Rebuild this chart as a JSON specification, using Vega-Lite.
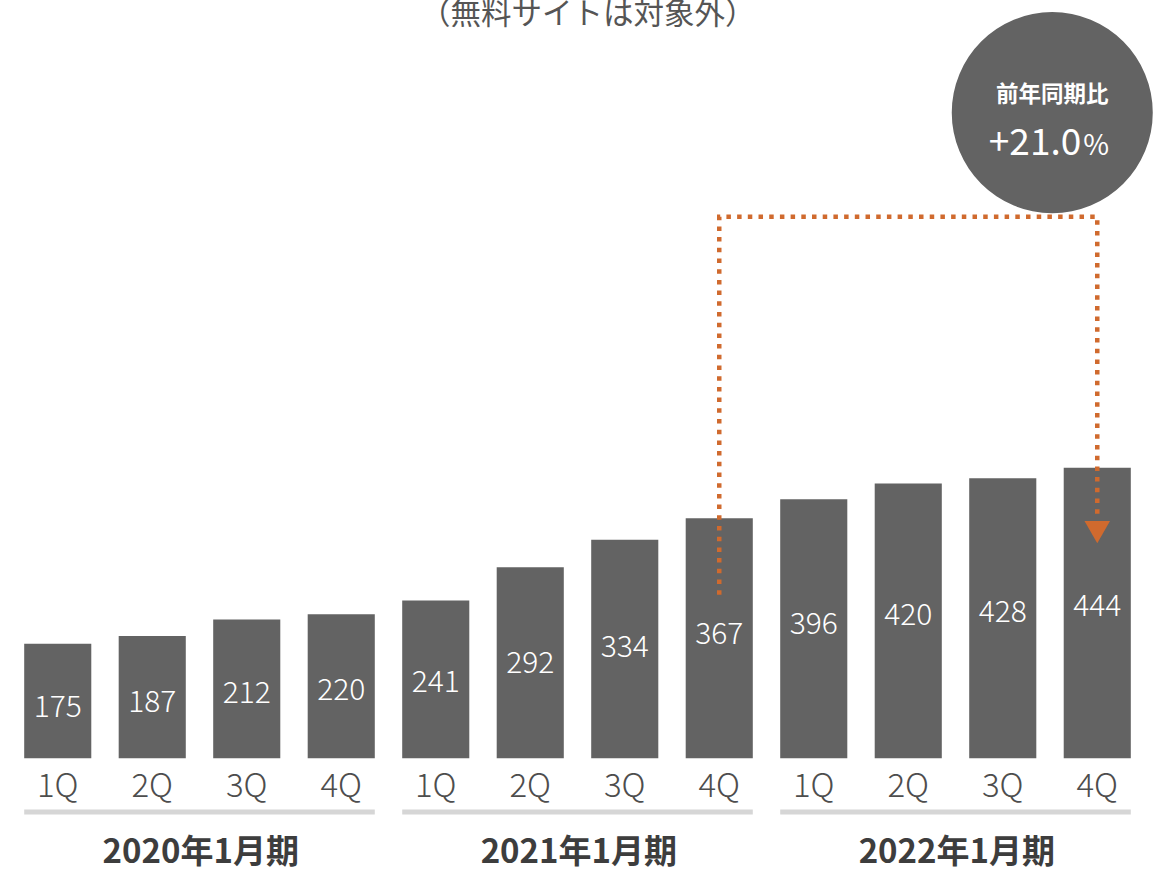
{
  "$schema": "https://vega.github.io/schema/vega-lite/v6.json",
  "width": 1155,
  "height": 872,
  "autosize": {"type": "fit", "contains": "padding"},
  "padding": 0,
  "background": "#ffffff",
  "config": {"view": {"stroke": null}, "font": "Noto Sans CJK JP"},
  "datasets": {
    "quarters": [
      {"key": "2020-1Q", "q": "1Q", "value": 175},
      {"key": "2020-2Q", "q": "2Q", "value": 187},
      {"key": "2020-3Q", "q": "3Q", "value": 212},
      {"key": "2020-4Q", "q": "4Q", "value": 220},
      {"key": "2021-1Q", "q": "1Q", "value": 241},
      {"key": "2021-2Q", "q": "2Q", "value": 292},
      {"key": "2021-3Q", "q": "3Q", "value": 334},
      {"key": "2021-4Q", "q": "4Q", "value": 367},
      {"key": "2022-1Q", "q": "1Q", "value": 396},
      {"key": "2022-2Q", "q": "2Q", "value": 420},
      {"key": "2022-3Q", "q": "3Q", "value": 428},
      {"key": "2022-4Q", "q": "4Q", "value": 444}
    ],
    "years": [
      {"year": "2020年1月期", "first": "2020-1Q", "mid": "2020-2Q", "last": "2020-4Q"},
      {"year": "2021年1月期", "first": "2021-1Q", "mid": "2021-2Q", "last": "2021-4Q"},
      {"year": "2022年1月期", "first": "2022-1Q", "mid": "2022-2Q", "last": "2022-4Q"}
    ],
    "path": [
      {"key": "2021-4Q", "y": 250, "o": 1},
      {"key": "2021-4Q", "y": 828, "o": 2},
      {"key": "2022-4Q", "y": 828, "o": 3},
      {"key": "2022-4Q", "y": 367, "o": 4}
    ]
  },
  "resolve": {"scale": {"y": "independent"}},
  "layer": [
    {
      "data": {"name": "quarters"},
      "mark": {"type": "bar", "color": "#636363"},
      "encoding": {
        "x": {"field": "key", "type": "ordinal", "axis": null, "scale": {"paddingInner": 0.29, "paddingOuter": 0.256, "domain": ["2020-1Q","2020-2Q","2020-3Q","2020-4Q","2021-1Q","2021-2Q","2021-3Q","2021-4Q","2022-1Q","2022-2Q","2022-3Q","2022-4Q"]}},
        "y": {"field": "value", "type": "quantitative", "axis": null, "scale": {"domain": [-174, 1147], "nice": false, "zero": false}},
        "y2": {"datum": 0}
      }
    },
    {
      "data": {"name": "quarters"},
      "mark": {"type": "text", "color": "#ffffff", "fontSize": 30, "fontWeight": 300, "baseline": "middle", "align": "center"},
      "encoding": {
        "x": {"field": "key", "type": "ordinal", "axis": null},
        "y": {"field": "value", "type": "quantitative", "axis": null, "scale": {"domain": [-263, 2038], "nice": false, "zero": false}},
        "text": {"field": "value", "type": "quantitative"}
      }
    },
    {
      "data": {"name": "quarters"},
      "mark": {"type": "text", "color": "#4d4d4d", "fontSize": 33, "fontWeight": 300, "baseline": "alphabetic", "align": "center"},
      "encoding": {
        "x": {"field": "key", "type": "ordinal", "axis": null},
        "y": {"datum": -59, "type": "quantitative", "axis": null, "scale": {"domain": [-174, 1147], "nice": false, "zero": false}},
        "text": {"field": "q", "type": "nominal"}
      }
    },
    {
      "data": {"name": "years"},
      "mark": {"type": "rule", "color": "#d6d6d6", "strokeWidth": 5},
      "encoding": {
        "x": {"field": "first", "type": "ordinal", "axis": null, "bandPosition": 0},
        "x2": {"field": "last", "bandPosition": 1},
        "y": {"datum": -82.3, "type": "quantitative", "axis": null, "scale": {"domain": [-174, 1147], "nice": false, "zero": false}}
      }
    },
    {
      "data": {"name": "years"},
      "mark": {"type": "text", "color": "#3d3d3d", "fontSize": 33, "fontWeight": "bold", "baseline": "alphabetic", "align": "center", "dx": 15},
      "encoding": {
        "x": {"field": "mid", "type": "ordinal", "axis": null, "bandPosition": 1},
        "y": {"datum": -160, "type": "quantitative", "axis": null, "scale": {"domain": [-174, 1147], "nice": false, "zero": false}},
        "text": {"field": "year", "type": "nominal"}
      }
    },
    {
      "data": {"name": "path"},
      "mark": {"type": "line", "color": "#d06a2e", "strokeWidth": 4.5, "strokeDash": [4.5, 6.2], "strokeCap": "butt"},
      "encoding": {
        "x": {"field": "key", "type": "ordinal", "axis": null},
        "y": {"field": "y", "type": "quantitative", "axis": null, "scale": {"domain": [-174, 1147], "nice": false, "zero": false}},
        "order": {"field": "o", "type": "quantitative"}
      }
    },
    {
      "data": {"values": [{"label": "arrow"}]},
      "mark": {"type": "point", "shape": "triangle-down", "size": 650, "filled": true, "color": "#d06a2e", "opacity": 1},
      "encoding": {
        "x": {"datum": "2022-4Q", "type": "ordinal", "axis": null},
        "y": {"datum": 345.6, "type": "quantitative", "axis": null, "scale": {"domain": [-174, 1147], "nice": false, "zero": false}}
      }
    },
    {
      "data": {"values": [{"label": "circle"}]},
      "mark": {"type": "point", "shape": "circle", "size": 40400, "filled": true, "color": "#636363", "opacity": 1, "xOffset": -45},
      "encoding": {
        "x": {"datum": "2022-4Q", "type": "ordinal", "axis": null},
        "y": {"datum": 987, "type": "quantitative", "axis": null, "scale": {"domain": [-174, 1147], "nice": false, "zero": false}}
      }
    },
    {
      "data": {"values": [{"t": "前年同期比"}]},
      "mark": {"type": "text", "color": "#ffffff", "fontSize": 22.5, "fontWeight": "bold", "baseline": "middle", "align": "center", "dx": -45},
      "encoding": {
        "x": {"datum": "2022-4Q", "type": "ordinal", "axis": null},
        "y": {"datum": 1014.4, "type": "quantitative", "axis": null, "scale": {"domain": [-174, 1147], "nice": false, "zero": false}},
        "text": {"field": "t", "type": "nominal"}
      }
    },
    {
      "data": {"values": [{"t": "+21.0"}]},
      "mark": {"type": "text", "color": "#ffffff", "fontSize": 37, "fontWeight": "normal", "baseline": "alphabetic", "align": "right", "dx": -16},
      "encoding": {
        "x": {"datum": "2022-4Q", "type": "ordinal", "axis": null},
        "y": {"datum": 922.3, "type": "quantitative", "axis": null, "scale": {"domain": [-174, 1147], "nice": false, "zero": false}},
        "text": {"field": "t", "type": "nominal"}
      }
    },
    {
      "data": {"values": [{"t": "%"}]},
      "mark": {"type": "text", "color": "#ffffff", "fontSize": 28, "fontWeight": "normal", "baseline": "alphabetic", "align": "left", "dx": -14},
      "encoding": {
        "x": {"datum": "2022-4Q", "type": "ordinal", "axis": null},
        "y": {"datum": 922.3, "type": "quantitative", "axis": null, "scale": {"domain": [-174, 1147], "nice": false, "zero": false}},
        "text": {"field": "t", "type": "nominal"}
      }
    },
    {
      "data": {"values": [{"t": "（無料サイトは対象外）"}]},
      "mark": {"type": "text", "color": "#555555", "fontSize": 30.5, "fontWeight": "normal", "baseline": "alphabetic", "align": "center", "dx": 24},
      "encoding": {
        "x": {"datum": "2021-2Q", "type": "ordinal", "axis": null, "bandPosition": 1},
        "y": {"datum": 1122, "type": "quantitative", "axis": null, "scale": {"domain": [-174, 1147], "nice": false, "zero": false}},
        "text": {"field": "t", "type": "nominal"}
      }
    }
  ]
}
